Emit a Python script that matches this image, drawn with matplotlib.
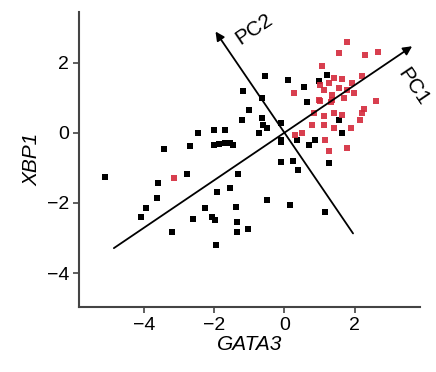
import matplotlib
matplotlib.use('Agg')
import matplotlib.pyplot as plt

plt.rcParams['font.family'] = ['Liberation Sans', 'DejaVu Sans']

# --- data (GATA3, XBP1) ---
black_x = [-5.09, -4.09, -3.95, -3.62, -3.60, -3.43, -3.21, -2.78, -2.69, -2.60,
           -2.45, -2.26, -2.05, -2.01, -2.00, -1.98, -1.96, -1.91, -1.85, -1.70,
           -1.68, -1.56, -1.55, -1.45, -1.39, -1.34, -1.34, -1.32, -1.20, -1.17,
           -1.03, -1.01, -0.73, -0.63, -0.63, -0.61, -0.54, -0.49, -0.49, -0.11,
           -0.11, -0.09, -0.09, 0.10, 0.17, 0.24, 0.36, 0.38, 0.36, 0.55,
           0.64, 0.69, 0.88, 0.97, 1.16, 1.21, 1.28, 1.54, 1.64]
black_y = [-1.25, -2.39, -2.15, -1.85, -1.44, -0.46, -2.84, -1.18, -0.37, -2.47,
           0.00, -2.15, -2.39, 0.09, -0.35, -2.49, -3.20, -1.70, -0.33, -0.30,
           0.09, -1.58, -0.28, -0.35, -2.13, -2.55, -2.84, -1.18, 0.37, 1.18,
           -2.74, 0.64, -0.01, 0.99, 0.42, 0.23, 1.61, 0.13, -1.91, 0.29,
           -0.20, -0.25, -0.84, 1.51, -2.06, -0.79, -0.20, -1.06, -0.20, 1.31,
           0.87, -0.34, -0.20, 1.47, -2.27, 1.65, -0.87, 0.37, -0.01]

red_x = [-3.14, 0.27, 0.31, 0.50, 0.79, 0.83, 0.97, 1.02, 1.02, 1.07,
         1.12, 1.12, 1.12, 1.16, 1.26, 1.26, 1.31, 1.36, 1.36, 1.40,
         1.40, 1.40, 1.54, 1.54, 1.64, 1.64, 1.69, 1.78, 1.78, 1.78,
         1.88, 1.92, 1.97, 2.16, 2.21, 2.21, 2.25, 2.30, 2.59, 2.65]
red_y = [-1.28, 1.15, -0.06, -0.01, 0.23, 0.56, 0.94, 0.90, 1.37, 1.91,
         0.47, 0.23, 1.23, -0.20, 1.42, -0.53, 0.87, 0.94, 1.09, 1.56,
         0.56, 0.13, 2.28, 1.28, 1.53, 0.51, 0.99, 2.58, 1.23, -0.44,
         0.13, 1.42, 1.13, 0.37, 1.63, 0.56, 0.68, 2.23, 0.92, 2.31]

# principal axes: start and arrow tip
pc1_start, pc1_end = (-4.85, -3.29), (3.63, 2.47)
pc2_start, pc2_end = (1.95, -2.87), (-1.96, 2.89)

fig = plt.figure(figsize=(4.36, 3.72), dpi=100)
ax = fig.add_axes([0.1805, 0.1747, 0.7825, 0.7933])

ax.scatter(black_x, black_y, marker='s', s=21, color='black', linewidths=0, zorder=3)
ax.scatter(red_x, red_y, marker='s', s=21, color='#d42a3c', alpha=0.9, linewidths=0, zorder=3)

for start, end in [(pc1_start, pc1_end), (pc2_start, pc2_end)]:
    ax.annotate('', xy=end, xytext=start,
                arrowprops=dict(arrowstyle='-|>', color='black', lw=1.3,
                                mutation_scale=13, shrinkA=0, shrinkB=0),
                zorder=4)

ax.text(-0.88, 2.97, 'PC2', rotation=34, fontsize=15, ha='center', va='center')
ax.text(3.66, 1.31, 'PC1', rotation=-56, fontsize=15, ha='center', va='center',
        clip_on=False)

ax.set_xlim(-5.85, 3.85)
ax.set_ylim(-4.97, 3.45)
ax.set_xticks([-4, -2, 0, 2])
ax.set_yticks([-4, -2, 0, 2])
ax.tick_params(labelsize=14, length=4, width=1.2, color='#444444', pad=3)
for side in ['top', 'right']:
    ax.spines[side].set_visible(False)
for side in ['left', 'bottom']:
    ax.spines[side].set_linewidth(1.5)
    ax.spines[side].set_color('#444444')

ax.set_xlabel('GATA3', fontsize=15, style='italic', labelpad=1)
ax.set_ylabel('XBP1', fontsize=15, style='italic', labelpad=4)

plt.savefig('out.png', dpi=100)
